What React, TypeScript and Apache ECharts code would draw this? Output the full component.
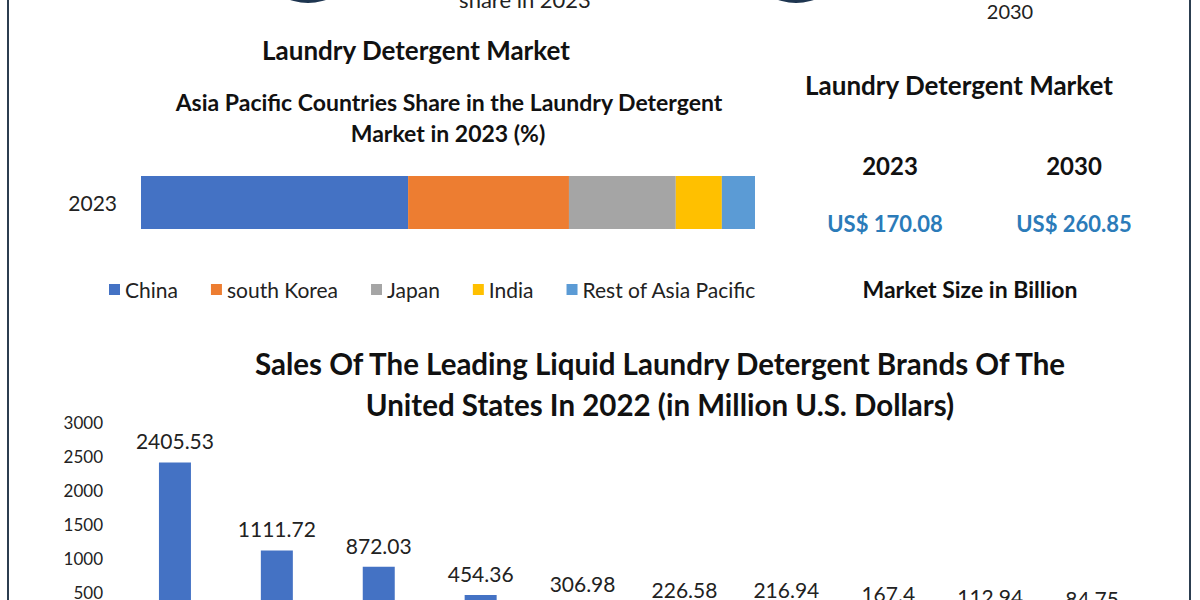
import React, { useEffect, useRef } from "react";
import * as echarts from "echarts";

const shareYear = ["2023"];
const shareSeriesNames = ["China", "south Korea", "Japan", "India", "Rest of Asia Pacific"];
const shareValues = [43.5, 26.2, 17.4, 7.5, 5.4];
const shareColors = ["#4472C4", "#ED7D31", "#A5A5A5", "#FFC000", "#5B9BD5"];

const brandCategories = ["Brand 1", "Brand 2", "Brand 3", "Brand 4", "Brand 5", "Brand 6", "Brand 7", "Brand 8", "Brand 9", "Brand 10"];
const brandSales = [2405.53, 1111.72, 872.03, 454.36, 306.98, 226.58, 216.94, 167.4, 112.94, 84.75];

const marketYears = ["2023", "2030"];
const marketValues = ["US$ 170.08", "US$ 260.85"];

const FONT = "Lato";

export default function App() {
  const ref = useRef<HTMLDivElement>(null);
  useEffect(() => {
    const chart = echarts.init(ref.current!, null, { renderer: "svg" });
    const txt = (text: string, x: number, y: number, size: number, bold = true, color = "#111") => ({
      type: "text",
      x,
      y,
      style: {
        text,
        fill: color,
        font: `${bold ? "bold " : ""}${size}px ${FONT}`,
        textAlign: "center",
        textVerticalAlign: "middle",
      },
    });
    const option: any = {
      animation: false,
      backgroundColor: "#ffffff",
      textStyle: { fontFamily: FONT },
      legend: {
        data: shareSeriesNames,
        left: 104,
        top: 274,
        itemWidth: 11,
        itemHeight: 11,
        itemGap: 33,
        icon: "rect",
        textStyle: { fontSize: 21, color: "#222", fontFamily: FONT },
      },
      grid: [
        { left: 141, top: 176, width: 614, height: 53, containLabel: false },
        { left: 124, top: 422, width: 1019, height: 204, containLabel: false },
      ],
      xAxis: [
        { type: "value", gridIndex: 0, min: 0, max: 100, show: false },
        {
          type: "category",
          gridIndex: 1,
          data: brandCategories,
          axisLine: { show: false },
          axisTick: { show: false },
          axisLabel: { show: false },
        },
      ],
      yAxis: [
        {
          type: "category",
          gridIndex: 0,
          data: shareYear,
          axisLine: { show: false },
          axisTick: { show: false },
          axisLabel: { fontSize: 21, color: "#222", margin: 24, fontFamily: FONT },
        },
        {
          type: "value",
          gridIndex: 1,
          min: 0,
          max: 3000,
          interval: 500,
          axisLine: { show: false },
          axisTick: { show: false },
          splitLine: { show: false },
          axisLabel: {
            fontSize: 17,
            color: "#222",
            margin: 21,
            fontFamily: FONT,
            formatter: (v: number) => String(v),
          },
        },
      ],
      series: [
        ...shareSeriesNames.map((name, i) => ({
          type: "bar",
          name,
          stack: "share",
          xAxisIndex: 0,
          yAxisIndex: 0,
          data: [shareValues[i]],
          barWidth: 53,
          itemStyle: { color: shareColors[i] },
        })),
        {
          type: "bar",
          name: "Sales",
          xAxisIndex: 1,
          yAxisIndex: 1,
          data: brandSales,
          barWidth: 32,
          itemStyle: { color: "#4472C4" },
          label: {
            show: true,
            position: "top",
            distance: 11,
            fontSize: 21,
            color: "#222",
            fontFamily: FONT,
          },
        },
      ],
      graphic: [
        { type: "line", shape: { x1: 8, y1: 0, x2: 8, y2: 600 }, style: { stroke: "#2c3e50", lineWidth: 2 } },
        { type: "line", shape: { x1: 1190, y1: 0, x2: 1190, y2: 600 }, style: { stroke: "#2c3e50", lineWidth: 2 } },
        { type: "circle", shape: { cx: 308, cy: -52, r: 55 }, style: { fill: "#1e3550" } },
        { type: "circle", shape: { cx: 796, cy: -52, r: 55 }, style: { fill: "#1e3550" } },
        txt("share in 2023", 525, -1, 22, false, "#222"),
        txt("2030", 1010, 11, 20, false, "#222"),
        txt("Laundry Detergent Market", 416, 50, 26),
        txt("Asia Pacific Countries Share in the Laundry Detergent", 449, 102, 23),
        txt("Market in 2023 (%)", 448, 133, 23),
        txt("Laundry Detergent Market", 959, 85, 26),
        txt(marketYears[0], 890, 165, 24),
        txt(marketYears[1], 1074, 165, 24),
        txt(marketValues[0], 885, 223, 22, true, "#2B7BB9"),
        txt(marketValues[1], 1074, 223, 22, true, "#2B7BB9"),
        txt("Market Size in Billion", 970, 289, 23),
        txt("Sales Of The Leading Liquid Laundry Detergent Brands Of The", 660, 363, 29.5),
        txt("United States In 2022 (in Million U.S. Dollars)", 660, 404, 29.5),
      ],
    };
    chart.setOption(option);
    return () => chart.dispose();
  }, []);
  return (
    <div
      ref={ref}
      style={{ position: "fixed", left: 0, top: 0, width: 1200, height: 660, background: "#fff" }}
    />
  );
}
